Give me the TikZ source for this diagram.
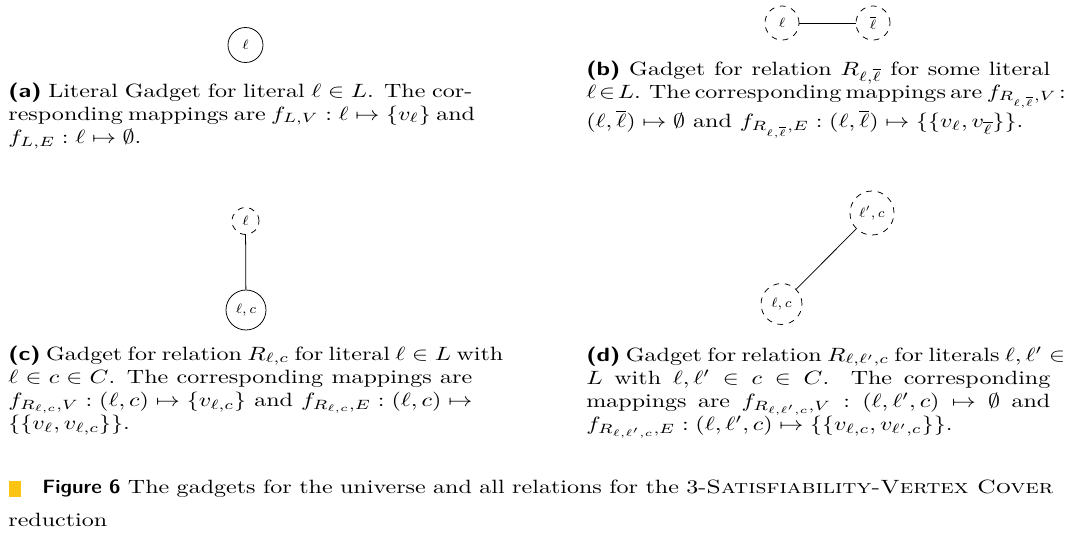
\documentclass[tikz,border=0pt]{standalone}
\usepackage{graphicx}
\usepackage{xcolor}
\definecolor{lipicsyellow}{RGB}{252,196,18}
\newlength\capw
\setlength\capw{193pt}
\newcommand\jline[1]{\noindent\makebox[\capw][s]{#1}\par}
\newcommand\lline[1]{\noindent\makebox[\capw][l]{#1}\par}
\newcommand\tightline[1]{\noindent{\spaceskip=0.26em plus 0.05em minus 0.08em\thickmuskip=3mu minus 1mu\medmuskip=2mu minus 1mu\makebox[\capw][s]{#1}}\par}
\newcommand\sublabel[1]{{\sffamily\bfseries (#1)}}
\newcommand\stretchpar[2]{\scalebox{1.25}[1]{\parbox[t]{#1}{\normalsize\setlength\parindent{0pt}#2}}}
\begin{document}
\begin{tikzpicture}[x=0.52pt,y=-0.52pt,
  vtx/.style={circle,draw,line width=0.4pt,inner sep=0pt,font=\scriptsize},
  dvtx/.style={vtx,dashed},
  edge/.style={draw,line width=0.4pt},
  subcap/.style={anchor=base west,inner sep=0pt}]
\useasboundingbox (0,0) rectangle (1075,538);

% (a)
\node[vtx,minimum size=18.2pt] (a1) at (245.5,45) {$\ell$};
\node[subcap] (capa) at (8,97) {\stretchpar{\capw}{%
\jline{\sublabel{a} Literal Gadget for literal $\ell\in L$.  The cor-}%
\jline{responding mappings are $f_{L,V}:\ell\mapsto\{v_\ell\}$ and}%
\lline{$f_{L,E}:\ell\mapsto\emptyset$.}}};

% (b)
\node[dvtx,minimum size=17.7pt] (b1) at (782,23) {$\ell$};
\node[dvtx,minimum size=17.7pt] (b2) at (873,23) {$\overline{\ell}$};
\draw[edge] (b1) -- (b2);
\node[subcap] (capb) at (586,75) {\stretchpar{\capw}{%
\jline{\sublabel{b} Gadget for relation $R_{\ell,\overline{\ell}}$ for some literal}%
\tightline{$\ell\in L$. The corresponding mappings are $f_{R_{\ell,\overline{\ell}},V}:$}%
\lline{$(\ell,\overline{\ell})\mapsto\emptyset$ and $f_{R_{\ell,\overline{\ell}},E}:(\ell,\overline{\ell})\mapsto\{\{v_\ell,v_{\overline{\ell}}\}\}$.}}};

% (c)
\node[dvtx,minimum size=14pt] (c1) at (245.5,221) {$\ell$};
\node[vtx,minimum size=20.8pt] (c2) at (246,310) {$\ell,c$};
\draw[edge] (c1) -- (c2);
\node[subcap] (capc) at (8,360) {\stretchpar{\capw}{%
\jline{\sublabel{c} Gadget for relation $R_{\ell,c}$ for literal $\ell\in L$ with}%
\jline{$\ell\in c\in C$.  The corresponding mappings are}%
\jline{$f_{R_{\ell,c},V}:(\ell,c)\mapsto\{v_{\ell,c}\}$ and $f_{R_{\ell,c},E}:(\ell,c)\mapsto$}%
\lline{$\{\{v_\ell,v_{\ell,c}\}\}$.}}};

% (d)
\node[dvtx,minimum size=22.9pt] (d1) at (872,213) {$\ell',c$};
\node[dvtx,minimum size=21.3pt] (d2) at (781.5,304) {$\ell,c$};
\draw[edge] (d2) -- (d1);
\node[subcap] (capd) at (586,361) {\stretchpar{\capw}{%
\jline{\sublabel{d} Gadget for relation $R_{\ell,\ell',c}$ for literals $\ell,\ell'\in$}%
\jline{$L$ with $\ell,\ell'\in c\in C$.  The corresponding}%
\jline{mappings are $f_{R_{\ell,\ell',c},V}:(\ell,\ell',c)\mapsto\emptyset$ and}%
\lline{$f_{R_{\ell,\ell',c},E}:(\ell,\ell',c)\mapsto\{\{v_{\ell,c},v_{\ell',c}\}\}$.}}};

% main caption
\fill[lipicsyellow] (9,481) rectangle (21,497);
\node[subcap] (fig) at (8,493) {\stretchpar{435pt}{%
\noindent\hspace*{14.1pt}\makebox[420.6pt][s]{{\sffamily\fontseries{sbc}\selectfont Figure 6} The gadgets for the universe and all relations for the 3-\textsc{Satisfiability-Vertex Cover}}\par
\vspace{5.2pt}\noindent reduction}};
\end{tikzpicture}
\end{document}
